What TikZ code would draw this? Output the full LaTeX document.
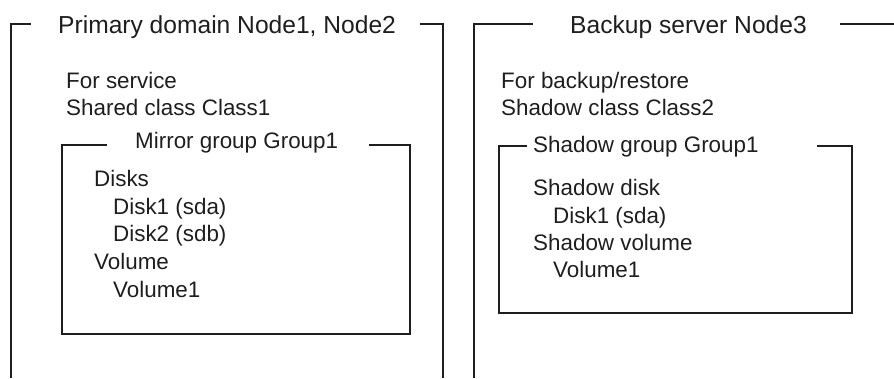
\documentclass[tikz,border=0pt]{standalone}
\usepackage{fontspec}
\setmainfont{Liberation Sans}
\definecolor{ink}{HTML}{1E1E1E}
\begin{document}
\begin{tikzpicture}[x=1pt,y=-1pt,
  frame/.style={draw=ink,line width=1.6pt},
  txt/.style={anchor=base west,inner sep=0pt,text=ink,font=\fontsize{22.4}{27}\selectfont},
  ttl/.style={anchor=base west,inner sep=0pt,text=ink,font=\fontsize{24.6}{29}\selectfont}]
\useasboundingbox (0,0) rectangle (894,378);
% outer left frame
\coordinate (LB) at (11,378);
\coordinate (LT) at (11,24);
\coordinate (LS) at (31,24);
\coordinate (RS) at (420,24);
\coordinate (RT) at (443,24);
\coordinate (RB) at (443,378);
\draw[frame] (LB) -- (LT) -- (LS);
\draw[frame] (RS) -- (RT) -- (RB);
% outer right frame
\coordinate (BLB) at (474,378);
\coordinate (BLT) at (474,24);
\coordinate (BLS) at (533,24);
\coordinate (BRS) at (840,24);
\coordinate (BRE) at (894,24);
\draw[frame] (BLB) -- (BLT) -- (BLS);
\draw[frame] (BRS) -- (BRE);
% mirror group box
\coordinate (M1) at (107,145);
\coordinate (M2) at (62,145);
\coordinate (M3) at (62,334);
\coordinate (M4) at (410,334);
\coordinate (M5) at (410,145);
\coordinate (M6) at (369,145);
\draw[frame] (M1) -- (M2) -- (M3) -- (M4) -- (M5) -- (M6);
% shadow group box
\coordinate (S1) at (527,146);
\coordinate (S2) at (499,146);
\coordinate (S3) at (499,313);
\coordinate (S4) at (852,313);
\coordinate (S5) at (852,146);
\coordinate (S6) at (817,146);
\draw[frame] (S1) -- (S2) -- (S3) -- (S4) -- (S5) -- (S6);
% titles
\node[ttl] (t1) at (58,33) {Primary domain Node1, Node2};
\node[ttl] (t2) at (570,33) {Backup server Node3};
% left contents
\node[txt] (a1) at (66,88) {For service};
\node[txt] (a2) at (66,115) {Shared class Class1};
\node[txt] (a3) at (135,148) {Mirror group Group1};
\node[txt] (a4) at (94,186) {Disks};
\node[txt] (a5) at (113,214) {Disk1 (sda)};
\node[txt] (a6) at (113,241.5) {Disk2 (sdb)};
\node[txt] (a7) at (94,269) {Volume};
\node[txt] (a8) at (113,297) {Volume1};
% right contents
\node[txt] (b1) at (501,88) {For backup/restore};
\node[txt] (b2) at (501,115) {Shadow class Class2};
\node[txt] (b3) at (533,152) {Shadow group Group1};
\node[txt] (b4) at (533,195) {Shadow disk};
\node[txt] (b5) at (553,223) {Disk1 (sda)};
\node[txt] (b6) at (533,250) {Shadow volume};
\node[txt] (b7) at (553,277) {Volume1};
\end{tikzpicture}
\end{document}
